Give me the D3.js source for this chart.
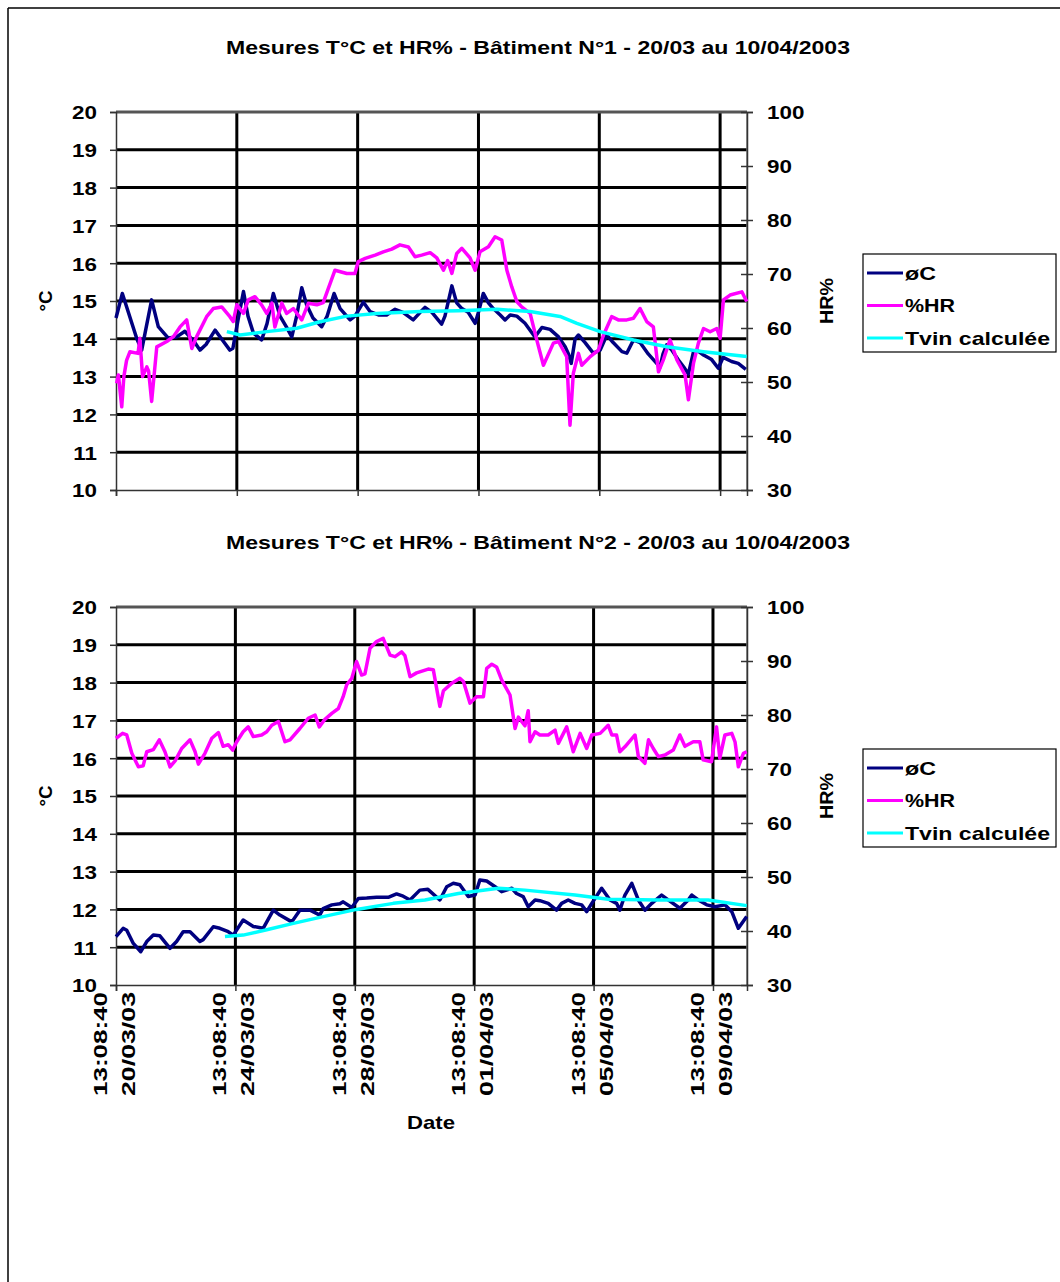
<!DOCTYPE html>
<html><head><meta charset="utf-8">
<script src="https://cdn.jsdelivr.net/npm/d3@7"></script>
<style>body{margin:0;background:#fff}text{font-family:"Liberation Sans",Arial,sans-serif;font-weight:bold;fill:#000}</style>
</head><body><svg id="c" width="1060" height="1282"></svg>
<script>
// ---- data (day offset from 20/03/2003 13:08:40, value) ----
const startStr = "2003-03-20T13:08:40";
const tempTicks = [10,11,12,13,14,15,16,17,18,19,20];
const hrTicks = [30,40,50,60,70,80,90,100];
const tickDays = [0,4,8,12,16,20];
const legendLabels = ["øC","%HR","Tvin calculée"];
const titles = ["Mesures T°C et HR% - Bâtiment N°1 - 20/03 au 10/04/2003",
                "Mesures T°C et HR% - Bâtiment N°2 - 20/03 au 10/04/2003"];

const b1Temp = [[0,14.55],[0.21,15.2],[0.69,14.0],[0.85,13.7],[1.18,15.03],[1.40,14.32],[1.73,14.02],[2.01,14.05],[2.28,14.2],[2.62,13.89],[2.78,13.7],[2.98,13.85],[3.28,14.23],[3.54,13.95],[3.77,13.7],[3.87,13.75],[4.04,14.5],[4.22,15.25],[4.37,14.6],[4.55,14.15],[4.82,13.97],[5.0,14.4],[5.21,15.2],[5.43,14.6],[5.65,14.3],[5.82,14.05],[5.98,14.6],[6.15,15.35],[6.31,14.9],[6.52,14.55],[6.81,14.32],[6.99,14.6],[7.22,15.2],[7.42,14.8],[7.75,14.5],[7.91,14.6],[8.19,14.97],[8.41,14.72],[8.69,14.63],[8.96,14.63],[9.24,14.78],[9.50,14.7],[9.84,14.5],[10.07,14.7],[10.23,14.83],[10.46,14.7],[10.78,14.39],[10.89,14.6],[11.12,15.4],[11.28,14.95],[11.45,14.8],[11.66,14.7],[11.89,14.41],[12.0,14.7],[12.16,15.2],[12.33,14.95],[12.49,14.8],[12.72,14.63],[12.88,14.5],[13.05,14.63],[13.27,14.6],[13.54,14.41],[13.87,14.05],[14.1,14.3],[14.37,14.25],[14.65,14.05],[14.87,13.79],[14.98,13.6],[15.07,13.35],[15.2,14.0],[15.31,14.1],[15.53,13.9],[15.8,13.62],[16.03,13.7],[16.25,14.1],[16.46,13.9],[16.75,13.66],[16.91,13.62],[17.13,13.97],[17.35,13.9],[17.62,13.6],[17.9,13.35],[18.01,13.25],[18.11,13.6],[18.23,13.84],[18.4,13.7],[18.62,13.44],[18.79,13.26],[18.95,13.07],[19.12,13.66],[19.23,13.7],[19.45,13.57],[19.72,13.45],[19.94,13.22],[20.1,13.51],[20.38,13.4],[20.6,13.35],[20.85,13.19]];
const b1Hr = [[0.02,49.75],[0.08,51.3],[0.19,45.4],[0.26,51],[0.35,54],[0.46,55.6],[0.73,55.3],[0.79,58.1],[0.88,51],[1.02,52.8],[1.08,52],[1.18,46.4],[1.35,56.5],[1.68,57.5],[1.90,58.4],[2.12,60.2],[2.34,61.5],[2.51,56.2],[2.67,58.4],[3.0,62.1],[3.22,63.6],[3.50,63.9],[3.77,62.1],[3.88,61.2],[4.0,64.3],[4.22,62.7],[4.38,65.2],[4.60,65.8],[4.82,64.3],[4.99,62.7],[5.16,64.6],[5.26,60.2],[5.49,64.6],[5.65,62.7],[5.87,63.6],[6.15,61.5],[6.37,64.6],[6.65,64.3],[6.86,64.7],[7.03,67.35],[7.25,70.7],[7.64,70.1],[7.91,70.1],[8.02,72.3],[8.25,72.9],[8.58,73.5],[8.85,74.1],[9.13,74.6],[9.40,75.4],[9.68,75.0],[9.90,73.2],[10.12,73.5],[10.40,73.95],[10.62,73.0],[10.84,70.7],[10.98,72.5],[11.12,70.1],[11.28,73.8],[11.45,74.75],[11.72,73.0],[11.89,70.7],[12.05,74.1],[12.33,75.05],[12.55,76.9],[12.77,76.3],[12.94,70.7],[13.1,67.65],[13.27,64.9],[13.43,63.9],[13.71,62.7],[13.93,57.8],[14.15,53.1],[14.48,57.2],[14.65,57.5],[14.92,54.7],[15.03,42.0],[15.14,51.6],[15.31,55.3],[15.42,53.1],[15.7,54.7],[15.97,55.9],[16.14,58.7],[16.41,62.1],[16.63,61.5],[16.91,61.5],[17.13,61.8],[17.35,63.6],[17.57,61.2],[17.79,60.2],[17.96,51.9],[18.12,54.1],[18.34,57.8],[18.57,54.1],[18.84,51.3],[18.95,46.7],[19.12,53.5],[19.28,57.2],[19.45,59.9],[19.67,59.3],[19.89,59.9],[20.0,58.1],[20.11,65.2],[20.33,66.1],[20.72,66.7],[20.88,64.9]];
const b1Tvin = [[3.67,14.19],[4.11,14.1],[4.99,14.19],[5.98,14.28],[6.75,14.45],[7.64,14.6],[8.63,14.67],[10.07,14.72],[11.33,14.74],[12.61,14.78],[13.71,14.72],[14.70,14.59],[15.26,14.41],[16.03,14.19],[17.13,13.97],[18.24,13.79],[19.45,13.66],[20.88,13.53]];

const b2Temp = [[0,11.28],[0.24,11.5],[0.36,11.45],[0.58,11.1],[0.83,10.88],[1.03,11.15],[1.25,11.32],[1.47,11.3],[1.81,10.97],[2.03,11.15],[2.25,11.41],[2.48,11.41],[2.81,11.15],[2.92,11.2],[3.26,11.54],[3.48,11.5],[3.76,11.41],[3.93,11.32],[4.26,11.72],[4.60,11.55],[4.93,11.5],[5.27,11.98],[5.49,11.85],[5.89,11.67],[6.16,11.98],[6.50,11.98],[6.83,11.85],[6.94,12.02],[7.23,12.12],[7.50,12.15],[7.61,12.2],[7.90,12.05],[8.12,12.29],[8.40,12.3],[8.73,12.32],[9.12,12.32],[9.40,12.41],[9.62,12.35],[9.85,12.25],[10.18,12.51],[10.45,12.53],[10.85,12.25],[11.08,12.6],[11.30,12.69],[11.52,12.65],[11.80,12.34],[12.03,12.38],[12.19,12.78],[12.42,12.75],[12.70,12.6],[12.92,12.47],[13.26,12.56],[13.42,12.42],[13.64,12.34],[13.81,12.07],[14.04,12.25],[14.20,12.23],[14.48,12.16],[14.76,11.98],[14.93,12.16],[15.15,12.25],[15.38,12.16],[15.60,12.12],[15.77,11.94],[15.94,12.16],[16.27,12.56],[16.55,12.25],[16.77,12.16],[16.88,11.98],[17.05,12.38],[17.28,12.69],[17.50,12.25],[17.72,11.98],[17.95,12.16],[18.28,12.38],[18.50,12.25],[18.89,12.03],[19.17,12.25],[19.29,12.38],[19.51,12.25],[19.79,12.12],[20.07,12.07],[20.40,12.12],[20.63,11.94],[20.85,11.5],[21.13,11.81]];
const b2Hr = [[0,75.7],[0.22,76.6],[0.36,76.3],[0.53,72.9],[0.75,70.4],[0.91,70.6],[1.03,73.2],[1.25,73.6],[1.45,75.4],[1.64,73.2],[1.81,70.4],[1.98,71.5],[2.20,73.8],[2.48,75.4],[2.65,73.2],[2.76,70.9],[2.98,72.9],[3.21,75.7],[3.43,76.75],[3.59,74.2],[3.76,74.5],[3.91,73.5],[4.04,75],[4.26,76.9],[4.43,77.8],[4.60,76.0],[4.88,76.3],[5.05,76.9],[5.22,78.1],[5.44,78.8],[5.66,75.05],[5.83,75.4],[6.16,77.5],[6.44,79.4],[6.67,80.0],[6.81,77.8],[7.0,79.2],[7.23,80.3],[7.45,81.2],[7.61,83.4],[7.73,85.6],[7.90,86.8],[8.06,89.9],[8.23,87.4],[8.34,87.6],[8.51,92.35],[8.73,93.6],[8.95,94.2],[9.18,91.1],[9.35,90.8],[9.57,91.7],[9.68,91.0],[9.85,87.1],[10.07,87.8],[10.46,88.5],[10.63,88.4],[10.85,81.6],[10.97,84.5],[11.25,85.9],[11.52,86.8],[11.64,86.2],[11.86,82.2],[12.08,83.4],[12.31,83.4],[12.42,88.65],[12.59,89.4],[12.75,88.9],[12.92,86.5],[13.20,83.7],[13.37,77.5],[13.48,79.6],[13.59,78.8],[13.70,78],[13.81,80.8],[13.87,75.05],[14.04,76.9],[14.20,76.3],[14.48,76.3],[14.71,77.2],[14.82,74.75],[15.10,77.8],[15.32,73.2],[15.55,76.6],[15.77,73.8],[15.94,76.3],[16.22,76.6],[16.49,78.1],[16.61,76.3],[16.77,76.3],[16.88,73.2],[17.05,74.1],[17.39,76.3],[17.50,72.3],[17.72,71.05],[17.84,75.4],[18.0,73.8],[18.17,72.3],[18.39,72.6],[18.67,73.5],[18.89,76.3],[19.06,74.2],[19.34,75.05],[19.56,75.05],[19.67,71.7],[19.95,71.35],[20.12,77.8],[20.23,72.0],[20.40,76.3],[20.63,76.6],[20.74,75.0],[20.85,70.4],[21.02,72.9],[21.13,73.2]];
const b2Tvin = [[3.65,11.28],[4.26,11.32],[5.05,11.46],[5.94,11.63],[6.94,11.81],[8.06,12.0],[9.29,12.16],[10.35,12.25],[11.47,12.42],[12.81,12.56],[13.70,12.51],[15.38,12.38],[16.49,12.27],[18.17,12.25],[19.84,12.25],[21.13,12.1]];

// ---- drawing ----
const svg = d3.select("#c");
const start = new Date(startStr);
const dayToDate = d => new Date(start.getTime() + d * 864e5);
const colors = ["#000080", "#FF00FF", "#00FFFF"];

// outer frame
svg.append("line").attr("x1",8).attr("y1",8).attr("x2",1060).attr("y2",8).attr("stroke","#000").attr("stroke-width",1.5);
svg.append("line").attr("x1",8).attr("y1",8).attr("x2",8).attr("y2",1282).attr("stroke","#000").attr("stroke-width",1.5);

function stretch(sel, f) {
  sel.each(function(){ const L = this.getComputedTextLength(); d3.select(this).attr("textLength", L*f).attr("lengthAdjust","spacingAndGlyphs"); });
}

function drawChart(cfg) {
  const left = 116, right = 747, top = cfg.top, bottom = cfg.top + 378;
  const x = d3.scaleTime().domain([start, dayToDate(cfg.endDay)]).range([left, right]);
  const yT = d3.scaleLinear().domain([10, 20]).range([bottom, top]);
  const yH = d3.scaleLinear().domain([30, 100]).range([bottom, top]);
  const g = svg.append("g");
  const tickDates = tickDays.map(dayToDate);

  // title
  g.append("text").attr("x", 538).attr("y", top - 58).attr("text-anchor","middle")
    .attr("font-size", 18.5).attr("textLength", 624).attr("lengthAdjust","spacingAndGlyphs").text(cfg.title);

  // horizontal gridlines
  g.selectAll(".hg").data(tempTicks.filter(t => t > 10 && t < 20)).join("line")
    .attr("x1", left).attr("x2", right).attr("y1", d => yT(d)).attr("y2", d => yT(d))
    .attr("stroke","#000").attr("stroke-width",3);
  // vertical gridlines
  g.selectAll(".vg").data(tickDates.slice(1)).join("line")
    .attr("x1", d => x(d)).attr("x2", d => x(d)).attr("y1", top).attr("y2", bottom)
    .attr("stroke","#000").attr("stroke-width",3);
  // plot border
  g.append("line").attr("x1", left).attr("x2", right).attr("y1", top).attr("y2", top).attr("stroke","#555").attr("stroke-width",3);
  g.append("line").attr("x1", right).attr("x2", right).attr("y1", top).attr("y2", bottom).attr("stroke","#777").attr("stroke-width",1.5);

  // left axis
  const ax = d3.axisLeft(yT).tickValues(tempTicks).tickSize(6).tickPadding(13).tickFormat(d3.format("d"));
  const gl = g.append("g").attr("transform", `translate(${left},0)`).call(ax);
  gl.attr("font-family", null).attr("font-size", null);
  gl.select(".domain").attr("stroke","#333").attr("stroke-width",1.5);
  gl.selectAll(".tick line").attr("stroke","#333").attr("stroke-width",1.5);
  gl.selectAll(".tick text").attr("font-size",19).attr("dy","0.36em");
  stretch(gl.selectAll(".tick text"), 1.18);

  // right axis
  const ar = d3.axisRight(yH).tickValues(hrTicks).tickSize(6).tickPadding(14).tickFormat(d3.format("d"));
  const gr = g.append("g").attr("transform", `translate(${right},0)`).call(ar);
  gr.attr("font-family", null).attr("font-size", null);
  gr.select(".domain").attr("stroke","#333").attr("stroke-width",1.5);
  gr.selectAll(".tick line").attr("x1",-6).attr("stroke","#333").attr("stroke-width",1.5);
  gr.selectAll(".tick text").attr("font-size",19).attr("dy","0.36em");
  stretch(gr.selectAll(".tick text"), 1.18);

  // bottom axis
  const ab = d3.axisBottom(x).tickValues(tickDates).tickSize(6).tickFormat("");
  const gb = g.append("g").attr("transform", `translate(0,${bottom})`).call(ab);
  gb.select(".domain").attr("stroke","#333").attr("stroke-width",1.5);
  gb.selectAll(".tick line").attr("stroke","#333").attr("stroke-width",1.5);

  if (cfg.labels) {
    const fT = d3.timeFormat("%H:%M:%S"), fD = d3.timeFormat("%d/%m/%y");
    const lg = g.selectAll(".xl").data(tickDates).join("g")
      .attr("transform", d => `translate(${x(d)},${bottom + 7}) rotate(-90)`);
    lg.append("text").attr("text-anchor","end").attr("y",-9).attr("font-size",19)
      .attr("textLength",104).attr("lengthAdjust","spacingAndGlyphs").text(fT);
    lg.append("text").attr("text-anchor","end").attr("y",19).attr("font-size",19)
      .attr("textLength",104).attr("lengthAdjust","spacingAndGlyphs").text(fD);
    g.append("text").attr("x",431).attr("y",bottom+144).attr("text-anchor","middle").attr("font-size",19)
      .attr("textLength",48).attr("lengthAdjust","spacingAndGlyphs").text("Date");
  }

  // axis titles
  const mid = (top + bottom) / 2;
  g.append("text").attr("transform", `translate(52,${mid}) rotate(-90)`).attr("text-anchor","middle")
    .attr("font-size",19).attr("textLength",21).attr("lengthAdjust","spacingAndGlyphs").text("°C");
  g.append("text").attr("transform", `translate(833,${mid}) rotate(-90)`).attr("text-anchor","middle")
    .attr("font-size",19).attr("textLength",46).attr("lengthAdjust","spacingAndGlyphs").text("HR%");

  // series
  const lineT = d3.line().x(d => x(dayToDate(d[0]))).y(d => yT(d[1]));
  const lineH = d3.line().x(d => x(dayToDate(d[0]))).y(d => yH(d[1]));
  g.append("path").datum(cfg.temp).attr("d", lineT).attr("fill","none").attr("stroke",colors[0]).attr("stroke-width",3.5).attr("stroke-linejoin","round");
  g.append("path").datum(cfg.hr).attr("d", lineH).attr("fill","none").attr("stroke",colors[1]).attr("stroke-width",3.5).attr("stroke-linejoin","round");
  g.append("path").datum(cfg.tvin).attr("d", lineT).attr("fill","none").attr("stroke",colors[2]).attr("stroke-width",3.5).attr("stroke-linejoin","round");

  // legend
  const ly = top + 142;
  g.append("rect").attr("x",863).attr("y",ly).attr("width",193).attr("height",98)
    .attr("fill","#fff").attr("stroke","#000").attr("stroke-width",1.2);
  const lw = [31, 50, 145];
  legendLabels.forEach((t, i) => {
    const yy = ly + 19 + i * 32.5;
    g.append("line").attr("x1",867).attr("x2",903).attr("y1",yy).attr("y2",yy).attr("stroke",colors[i]).attr("stroke-width",3);
    g.append("text").attr("x",905).attr("y",yy).attr("dy","0.36em").attr("font-size",19)
      .attr("textLength",lw[i]).attr("lengthAdjust","spacingAndGlyphs").text(t);
  });
}

drawChart({top:112, endDay:20.89, title:titles[0], temp:b1Temp, hr:b1Hr, tvin:b1Tvin, labels:false});
drawChart({top:607, endDay:21.14, title:titles[1], temp:b2Temp, hr:b2Hr, tvin:b2Tvin, labels:true});
</script></body></html>
